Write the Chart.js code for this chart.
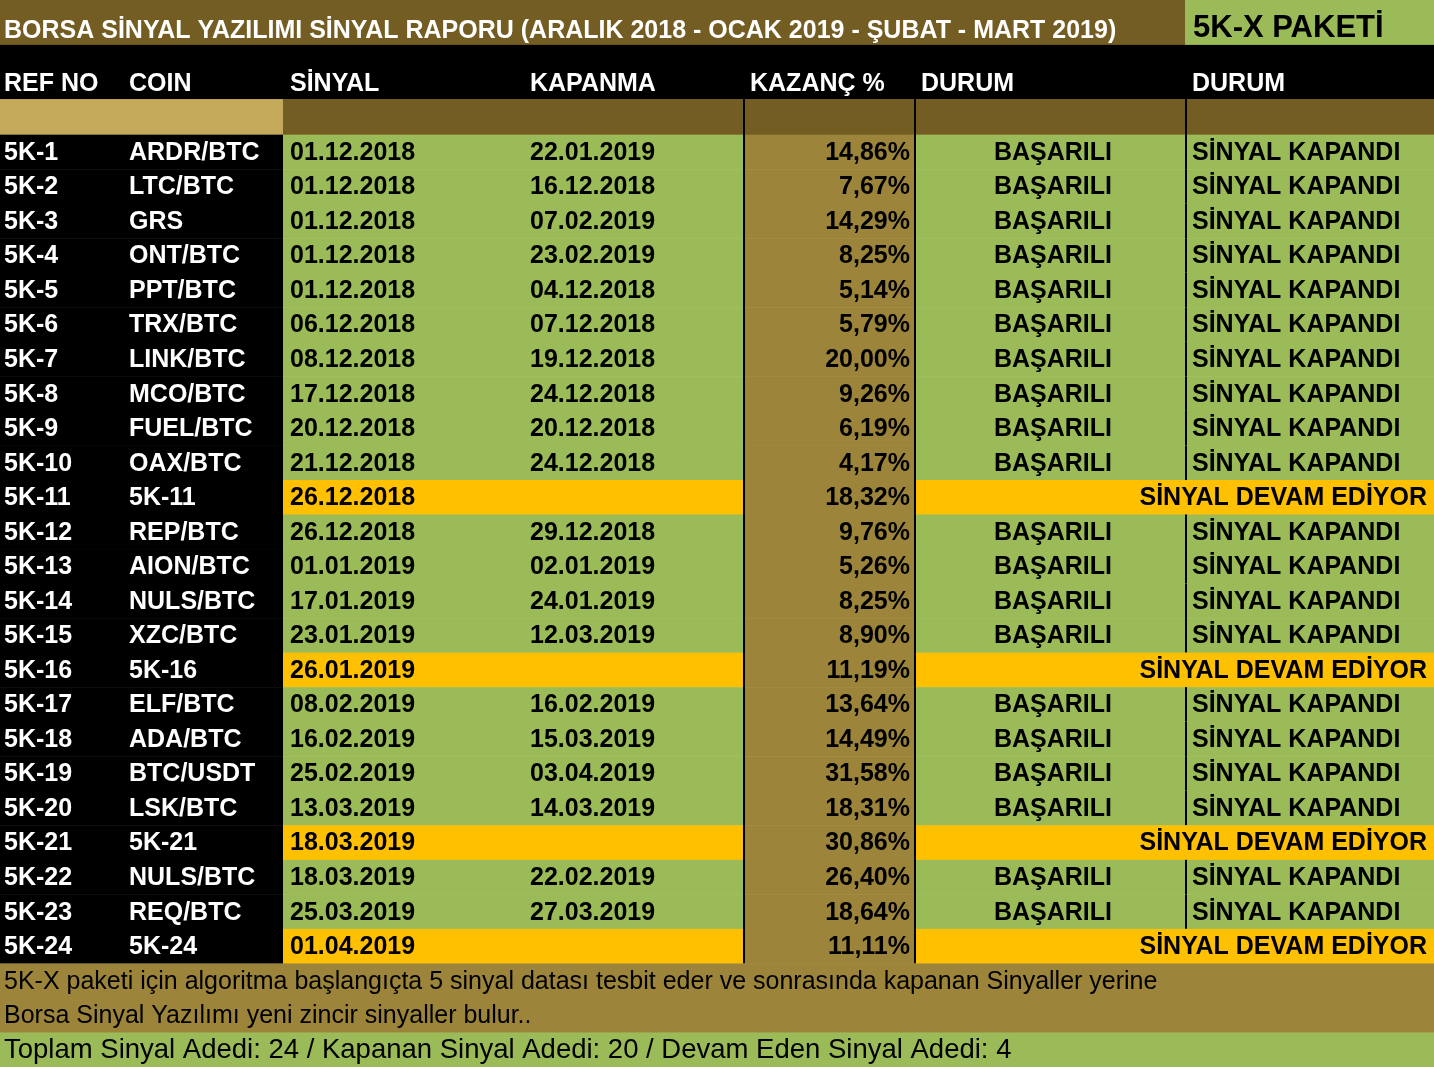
<!DOCTYPE html>
<html><head><meta charset="utf-8">
<script src="https://cdn.jsdelivr.net/npm/chart.js@4"></script>
<style>html,body{margin:0;padding:0;background:#fff}canvas{display:block}</style>
</head><body>
<canvas id="c" width="1434" height="1067"></canvas>
<script>
const title = "BORSA SİNYAL YAZILIMI SİNYAL RAPORU (ARALIK 2018 - OCAK 2019 - ŞUBAT - MART 2019)";
const packageName = "5K-X PAKETİ";
const headers = ["REF NO","COIN","SİNYAL","KAPANMA","KAZANÇ %","DURUM","DURUM"];
const refNo = ["5K-1","5K-2","5K-3","5K-4","5K-5","5K-6","5K-7","5K-8","5K-9","5K-10","5K-11","5K-12","5K-13","5K-14","5K-15","5K-16","5K-17","5K-18","5K-19","5K-20","5K-21","5K-22","5K-23","5K-24"];
const coins = ["ARDR/BTC","LTC/BTC","GRS","ONT/BTC","PPT/BTC","TRX/BTC","LINK/BTC","MCO/BTC","FUEL/BTC","OAX/BTC","5K-11","REP/BTC","AION/BTC","NULS/BTC","XZC/BTC","5K-16","ELF/BTC","ADA/BTC","BTC/USDT","LSK/BTC","5K-21","NULS/BTC","REQ/BTC","5K-24"];
const signalDates = ["01.12.2018","01.12.2018","01.12.2018","01.12.2018","01.12.2018","06.12.2018","08.12.2018","17.12.2018","20.12.2018","21.12.2018","26.12.2018","26.12.2018","01.01.2019","17.01.2019","23.01.2019","26.01.2019","08.02.2019","16.02.2019","25.02.2019","13.03.2019","18.03.2019","18.03.2019","25.03.2019","01.04.2019"];
const closeDates = ["22.01.2019","16.12.2018","07.02.2019","23.02.2019","04.12.2018","07.12.2018","19.12.2018","24.12.2018","20.12.2018","24.12.2018","","29.12.2018","02.01.2019","24.01.2019","12.03.2019","","16.02.2019","15.03.2019","03.04.2019","14.03.2019","","22.02.2019","27.03.2019",""];
const gains = [14.86,7.67,14.29,8.25,5.14,5.79,20.00,9.26,6.19,4.17,18.32,9.76,5.26,8.25,8.90,11.19,13.64,14.49,31.58,18.31,30.86,26.40,18.64,11.11];
const openRows = [false,false,false,false,false,false,false,false,false,false,true,false,false,false,false,true,false,false,false,false,true,false,false,true];
const footer = ["5K-X paketi için algoritma başlangıçta 5 sinyal datası tesbit eder ve sonrasında kapanan Sinyaller yerine","Borsa Sinyal Yazılımı yeni zincir sinyaller bulur..","Toplam Sinyal Adedi: 24 / Kapanan Sinyal Adedi: 20 / Devam Eden Sinyal Adedi: 4"];

const C={title:'#735d22',black:'#000',tan:'#c4a95b',dark:'#735d22',green:'#9bbb59',olive:'#9c853a',yellow:'#ffc000',foot:'#9c853a'};
const Y0=3.9;
const F="'Liberation Sans', Arial, sans-serif";

const tablePlugin={id:'table',beforeDatasetsDraw(chart){
  const ctx=chart.ctx,xs=chart.scales.x,ys=chart.scales.y;
  const X=v=>xs.getPixelForValue(v),Y=v=>ys.getPixelForValue(v);
  const rect=(x0,x1,y0,y1,c)=>{ctx.fillStyle=c;ctx.fillRect(X(x0),Y(y0),X(x1)-X(x0),Y(y1)-Y(y0)+0.5);};
  const text=(s,x,y,align,font,color)=>{ctx.font=font;ctx.fillStyle=color;ctx.textAlign=align;ctx.textBaseline='middle';ctx.fillText(s,X(x),Y(y)+1);};
  const vline=(x,y0,y1)=>{ctx.fillStyle='#000';ctx.fillRect(X(x)-1,Y(y0),2,Y(y1)-Y(y0));};
  rect(0,1434,0,1.3,C.title); rect(1185,1434,0,1.3,C.green);
  text(title,4,0.87,'left','bold 25px '+F,'#fff');
  text(packageName,1193,0.8,'left','bold 31px '+F,'#000');
  rect(0,1434,1.3,2.87,C.black);
  const hx=[4,129,290,530,750,921,1192];
  headers.forEach((h,i)=>text(h,hx[i],2.4,'left','bold 25px '+F,'#fff'));
  rect(0,283,2.87,Y0,C.tan); rect(283,1434,2.87,Y0,C.dark);
  const bf='bold 25px '+F;
  refNo.forEach((r,i)=>{
    const a=Y0+i,b=a+1,m=a+0.5;
    rect(0,283,a,b,C.black);
    const fill=openRows[i]?C.yellow:C.green;
    rect(283,743,a,b,fill); rect(743,915,a,b,C.olive); rect(915,1434,a,b,fill);
    text(r,4,m,'left',bf,'#fff'); text(coins[i],129,m,'left',bf,'#fff');
    text(signalDates[i],290,m,'left',bf,'#000');
    if(closeDates[i]) text(closeDates[i],530,m,'left',bf,'#000');
    text(gains[i].toFixed(2).replace('.',',')+'%',910,m,'right',bf,'#000');
    if(openRows[i]) text('SİNYAL DEVAM EDİYOR',1427,m,'right',bf,'#000');
    else { text('BAŞARILI',1053,m,'center',bf,'#000'); text('SİNYAL KAPANDI',1192,m,'left',bf,'#000'); vline(1186,a,b); }
  });
  vline(744,2.87,Y0+24); vline(915,2.87,Y0+24); vline(1186,2.87,Y0);
  const fy=Y0+24;
  rect(0,1434,fy,fy+2,C.foot); rect(0,1434,fy+2,fy+3,C.green);
  footer.forEach((s,i)=>text(s,4,fy+i+0.5,'left',(i===2?'27.5px ':'25px ')+F,'#000'));
}};

new Chart(document.getElementById('c'),{
  type:'scatter',
  data:{datasets:[{data:[]}]},
  options:{responsive:false,animation:false,devicePixelRatio:1,
    layout:{padding:0},
    plugins:{legend:{display:false},tooltip:{enabled:false}},
    scales:{x:{type:'linear',min:0,max:1434,display:false,offset:false},
            y:{type:'linear',min:0,max:30.9,reverse:true,display:false,offset:false}}},
  plugins:[tablePlugin]
});
</script></body></html>
